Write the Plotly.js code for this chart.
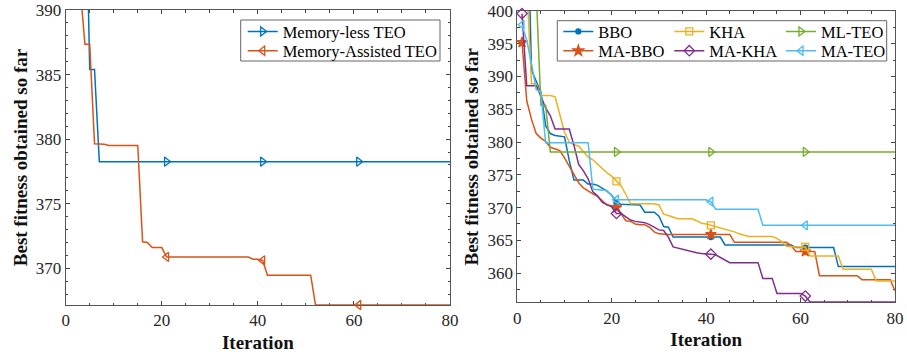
<!DOCTYPE html>
<html>
<head>
<meta charset="utf-8">
<script src="https://cdn.plot.ly/plotly-3.0.1.min.js"></script>
<style>html,body{margin:0;padding:0;background:#fff;}#chart{width:907px;height:355px;}</style>
</head>
<body>
<div id="chart"></div>
<script>
// ---------- DATA ----------
const iteration = Array.from({length: 80}, (_, i) => i + 1);

// Left panel
const memoryLessTEO_left = [
  440, 425, 412, 403, 385.4, 385.4, 378.25, 378.25, 378.25, 378.25,
  378.25, 378.25, 378.25, 378.25, 378.25, 378.25, 378.25, 378.25, 378.25, 378.25,
  378.25, 378.25, 378.25, 378.25, 378.25, 378.25, 378.25, 378.25, 378.25, 378.25,
  378.25, 378.25, 378.25, 378.25, 378.25, 378.25, 378.25, 378.25, 378.25, 378.25,
  378.25, 378.25, 378.25, 378.25, 378.25, 378.25, 378.25, 378.25, 378.25, 378.25,
  378.25, 378.25, 378.25, 378.25, 378.25, 378.25, 378.25, 378.25, 378.25, 378.25,
  378.25, 378.25, 378.25, 378.25, 378.25, 378.25, 378.25, 378.25, 378.25, 378.25,
  378.25, 378.25, 378.25, 378.25, 378.25, 378.25, 378.25, 378.25, 378.25, 378.25
];
const memoryAssistedTEO_left = [
  420, 405, 391.8, 387.34, 387.34, 379.64, 379.64, 379.6, 379.5, 379.5,
  379.5, 379.5, 379.5, 379.5, 379.5, 372.05, 372.0, 371.6, 371.6, 371.6,
  370.87, 370.87, 370.87, 370.87, 370.87, 370.87, 370.87, 370.87, 370.87, 370.87,
  370.87, 370.87, 370.87, 370.87, 370.87, 370.87, 370.87, 370.87, 370.7, 370.7,
  370.6, 369.46, 369.46, 369.46, 369.46, 369.46, 369.46, 369.46, 369.46, 369.46,
  369.46, 367.15, 367.15, 367.15, 367.15, 367.15, 367.15, 367.15, 367.15, 367.15,
  367.15, 367.15, 367.15, 367.15, 367.15, 367.15, 367.15, 367.15, 367.15, 367.15,
  367.15, 367.15, 367.15, 367.15, 367.15, 367.15, 367.15, 367.15, 367.15, 367.15
];

// Right panel
const BBO = [
  440, 421, 391, 389.2, 387.6, 382.5, 381.3, 381.0, 380.9, 380.8,
  377.2, 374.2, 374.2, 374.2, 373.6, 373.6, 373.4, 373.0, 372.5, 371.9,
  370.7, 370.5, 370.5, 370.5, 370.5, 370.4, 369.3, 369.3, 369.3, 368.7,
  367.1, 367.0, 365.5, 365.5, 365.5, 365.5, 365.5, 365.5, 365.5, 365.5,
  365.5, 365.5, 365.5, 364.3, 364.3, 364.3, 364.3, 364.3, 364.3, 364.3,
  364.3, 364.3, 364.3, 364.3, 364.3, 364.3, 364.3, 364.3, 363.9, 363.9,
  363.9, 363.9, 363.9, 363.9, 363.9, 363.9, 363.9, 361.0, 361.0, 361.0,
  361.0, 361.0, 361.0, 361.0, 361.0, 361.0, 361.0, 361.0, 361.0, 361.0
];
const MA_BBO = [
  395.2, 386.3, 383.5, 381.3, 380.6, 380.1, 379.2, 379.0, 378.7, 377.6,
  376.4, 375.0, 373.8, 373.0, 372.5, 372.1, 371.7, 371.0, 370.4, 370.3,
  370.0, 369.0, 368.0, 367.9, 367.5, 367.4, 367.4, 367.0, 366.3, 366.0,
  365.9, 365.9, 365.9, 365.9, 365.9, 365.9, 365.9, 365.9, 365.9, 365.9,
  365.9, 365.9, 365.9, 365.9, 365.9, 364.7, 364.7, 364.7, 364.7, 364.7,
  364.7, 364.7, 364.7, 364.7, 364.7, 364.7, 364.7, 364.2, 363.3, 363.3,
  363.3, 363.3, 363.3, 359.6, 359.6, 359.6, 359.6, 359.6, 359.6, 359.6,
  359.6, 359.6, 359.0, 359.0, 359.0, 359.0, 359.0, 359.0, 359.0, 357.3
];
const KHA = [
  420, 405, 388.9, 388.9, 387.1, 387.1, 387.1, 386.9, 384.0, 381.5,
  380.0, 379.6, 379.4, 378.5, 377.7, 377.3, 376.6, 375.9, 375.3, 374.8,
  374.0, 373.3, 372.0, 370.6, 370.6, 370.6, 370.6, 370.6, 370.6, 370.4,
  369.0, 368.8, 368.6, 368.3, 368.3, 368.3, 368.3, 368.0, 367.6, 367.5,
  367.3, 367.1, 366.9, 366.8, 366.6, 366.3, 366.0, 365.8, 365.6, 365.6,
  365.6, 365.6, 365.6, 365.6, 365.3, 364.8, 364.1, 364.0, 364.0, 364.0,
  364.0, 362.6, 362.6, 362.6, 362.6, 362.6, 362.6, 362.6, 360.6, 360.6,
  360.6, 360.6, 360.6, 360.6, 360.6, 358.8, 358.8, 358.8, 358.8, 358.8
];
const MA_KHA = [
  399.6, 388.6, 388.6, 388.6, 387.0, 385.2, 384.0, 382.0, 382.0, 382.0,
  382.0, 379.5, 376.6, 375.6, 374.4, 372.4, 371.8, 370.8, 370.4, 370.1,
  369.1, 369.1, 368.6, 368.1, 367.9, 367.8, 367.7, 367.4, 367.0, 366.6,
  366.5, 365.5, 364.0, 363.8, 363.6, 363.4, 363.3, 363.1, 363.0, 363.0,
  362.9, 362.8, 362.4, 362.1, 361.6, 361.6, 361.6, 361.6, 361.6, 361.6,
  361.6, 359.2, 359.2, 359.2, 356.9, 356.9, 356.9, 356.9, 356.9, 356.9,
  356.5, 355.6, 355.6, 355.6, 355.6, 355.6, 355.6, 355.6, 355.6, 355.6,
  355.6, 355.6, 355.6, 355.6, 355.6, 355.6, 355.6, 355.6, 355.6, 355.6
];
const ML_TEO = [
  440, 425, 412, 403, 385.6, 385.6, 378.5, 378.5, 378.5, 378.5,
  378.5, 378.5, 378.5, 378.5, 378.5, 378.5, 378.5, 378.5, 378.5, 378.5,
  378.5, 378.5, 378.5, 378.5, 378.5, 378.5, 378.5, 378.5, 378.5, 378.5,
  378.5, 378.5, 378.5, 378.5, 378.5, 378.5, 378.5, 378.5, 378.5, 378.5,
  378.5, 378.5, 378.5, 378.5, 378.5, 378.5, 378.5, 378.5, 378.5, 378.5,
  378.5, 378.5, 378.5, 378.5, 378.5, 378.5, 378.5, 378.5, 378.5, 378.5,
  378.5, 378.5, 378.5, 378.5, 378.5, 378.5, 378.5, 378.5, 378.5, 378.5,
  378.5, 378.5, 378.5, 378.5, 378.5, 378.5, 378.5, 378.5, 378.5, 378.5
];
const MA_TEO = [
  397.9, 395.5, 392.0, 388.0, 387.6, 379.9, 379.9, 379.9, 379.9, 379.9,
  379.9, 379.9, 379.9, 379.9, 379.9, 372.8, 372.7, 372.7, 372.6, 371.8,
  371.2, 371.2, 371.2, 371.2, 371.2, 371.2, 371.2, 371.2, 371.2, 371.2,
  371.2, 371.2, 371.2, 371.2, 371.2, 371.2, 371.2, 371.2, 371.2, 371.2,
  370.9, 369.75, 369.75, 369.75, 369.75, 369.75, 369.75, 369.75, 369.75, 369.75,
  369.75, 367.3, 367.3, 367.3, 367.3, 367.3, 367.3, 367.3, 367.3, 367.3,
  367.3, 367.3, 367.3, 367.3, 367.3, 367.3, 367.3, 367.3, 367.3, 367.3,
  367.3, 367.3, 367.3, 367.3, 367.3, 367.3, 367.3, 367.3, 367.3, 367.3
];

const leftNames = ['Memory-less TEO', 'Memory-Assisted TEO'];
const rightNames = ['BBO', 'KHA', 'ML-TEO', 'MA-BBO', 'MA-KHA', 'MA-TEO'];
const xTickVals = [0, 20, 40, 60, 80];
const yTickValsLeft = [370, 375, 380, 385, 390];
const yTickValsRight = [360, 365, 370, 375, 380, 385, 390, 395, 400];
const markerIdx = [0, 20, 40, 60];

// ---------- STYLE ----------
const SERIF = 'Liberation Serif, Times New Roman, Times, serif';
const W = 907, H = 355;
const C = {blue:'#0072BD', orange:'#D95319', yellow:'#EDB120', purple:'#7E2F8E', green:'#77AC30', cyan:'#4DBEEE'};

const series = [
  // left panel
  {name: leftNames[0], y: memoryLessTEO_left, color: C.blue, sym: 'triangle-right-open', size: 8, xa: 'x', ya: 'y', leg: 'legend', lx: 242.7, ly: 31.7},
  {name: leftNames[1], y: memoryAssistedTEO_left, color: C.orange, sym: 'triangle-left-open', size: 8, xa: 'x', ya: 'y', leg: 'legend2', lx: 242.7, ly: 51},
  // right panel (MATLAB plotting order)
  {name: rightNames[0], y: BBO, color: C.blue, sym: 'circle', size: 5, xa: 'x2', ya: 'y2', leg: 'legend3', lx: 558.3, ly: 31.7},
  {name: rightNames[3], y: MA_BBO, color: C.orange, sym: 'star', size: 8, xa: 'x2', ya: 'y2', leg: 'legend6', lx: 558.3, ly: 51},
  {name: rightNames[1], y: KHA, color: C.yellow, sym: 'square-open', size: 7, xa: 'x2', ya: 'y2', leg: 'legend4', lx: 669.3, ly: 31.7},
  {name: rightNames[4], y: MA_KHA, color: C.purple, sym: 'diamond-open', size: 8, xa: 'x2', ya: 'y2', leg: 'legend7', lx: 669.3, ly: 51},
  {name: rightNames[2], y: ML_TEO, color: C.green, sym: 'triangle-right-open', size: 8, xa: 'x2', ya: 'y2', leg: 'legend5', lx: 781, ly: 31.7},
  {name: rightNames[5], y: MA_TEO, color: C.cyan, sym: 'triangle-left-open', size: 8, xa: 'x2', ya: 'y2', leg: 'legend8', lx: 781, ly: 51}
];

const traces = [];
const legends = {};
series.forEach(s => {
  const mk = {symbol: s.sym, size: s.size, color: s.color, line: {color: s.color, width: 1.3}};
  traces.push({x: iteration, y: s.y, mode: 'lines', line: {color: s.color, width: 1.5},
    xaxis: s.xa, yaxis: s.ya, showlegend: false, hoverinfo: 'skip'});
  traces.push({x: markerIdx.map(i => iteration[i]), y: markerIdx.map(i => s.y[i]), mode: 'markers',
    marker: mk, xaxis: s.xa, yaxis: s.ya, showlegend: false, cliponaxis: false, hoverinfo: 'skip'});
  traces.push({x: [null], y: [null], mode: 'lines+markers', name: s.name, line: {color: s.color, width: 1.5},
    marker: mk, xaxis: s.xa, yaxis: s.ya, showlegend: true, legend: s.leg});
  legends[s.leg] = {x: s.lx / W, y: 1 - s.ly / H, xanchor: 'left', yanchor: 'middle',
    bgcolor: 'rgba(0,0,0,0)', borderwidth: 0, itemwidth: 30,
    font: {family: SERIF, size: 16.5, color: '#000'}};
});

function xAxis(domain, titleStandoff) {
  return {domain: domain, range: [0, 80], tickvals: xTickVals, ticks: 'inside', ticklen: 4,
    tickcolor: '#444', tickwidth: 1, showline: true, linecolor: '#555', linewidth: 1,
    mirror: 'allticks', showgrid: false, zeroline: false, layer: 'below traces',
    minor: {dtick: 5, tick0: 0, ticks: 'inside', ticklen: 2.5, tickcolor: '#444', showgrid: false},
    tickfont: {family: SERIF, size: 17, color: '#262626'},
    title: {text: 'Iteration', font: {family: SERIF, size: 19, weight: 'bold', color: '#111'}, standoff: titleStandoff}};
}
function yAxis(domain, range, tickvals, minorDtick, xa) {
  return {domain: domain, range: range, tickvals: tickvals, ticks: 'inside', ticklen: 4,
    tickcolor: '#444', tickwidth: 1, showline: true, linecolor: '#555', linewidth: 1,
    mirror: 'allticks', showgrid: false, zeroline: false, layer: 'below traces', anchor: xa,
    minor: {dtick: minorDtick, tick0: 0, ticks: 'inside', ticklen: 2.5, tickcolor: '#444', showgrid: false},
    tickfont: {family: SERIF, size: 17, color: '#262626'},
    title: {text: 'Best fitness obtained so far', font: {family: SERIF, size: 19, weight: 'bold', color: '#111'}, standoff: 3}};
}

const layout = Object.assign({
  width: W, height: H, margin: {l: 0, r: 0, t: 0, b: 0},
  paper_bgcolor: '#fff', plot_bgcolor: '#fff', showlegend: true,
  font: {family: SERIF, size: 16, color: '#262626'},
  xaxis: Object.assign(xAxis([65.7 / W, 450 / W], 6), {anchor: 'y'}),
  yaxis: yAxis([1 - 305 / H, 1 - 10 / H], [367.15, 390], yTickValsLeft, 1, 'x'),
  xaxis2: Object.assign(xAxis([517.3 / W, 895 / W], 5), {anchor: 'y2'}),
  yaxis2: yAxis([1 - 302.3 / H, 1 - 11 / H], [355.55, 400], yTickValsRight, 2.5, 'x2'),
  shapes: [
    {type: 'rect', xref: 'paper', yref: 'paper', x0: 240.7 / W, x1: 440 / W, y0: 1 - 61 / H, y1: 1 - 20 / H,
      fillcolor: '#fff', line: {color: '#666', width: 1}, layer: 'above'},
    {type: 'rect', xref: 'paper', yref: 'paper', x0: 557.3 / W, x1: 886.7 / W, y0: 1 - 61 / H, y1: 1 - 20.7 / H,
      fillcolor: '#fff', line: {color: '#666', width: 1}, layer: 'above'}
  ]
}, legends);

Plotly.newPlot('chart', traces, layout, {displayModeBar: false, staticPlot: true});
</script>
</body>
</html>
